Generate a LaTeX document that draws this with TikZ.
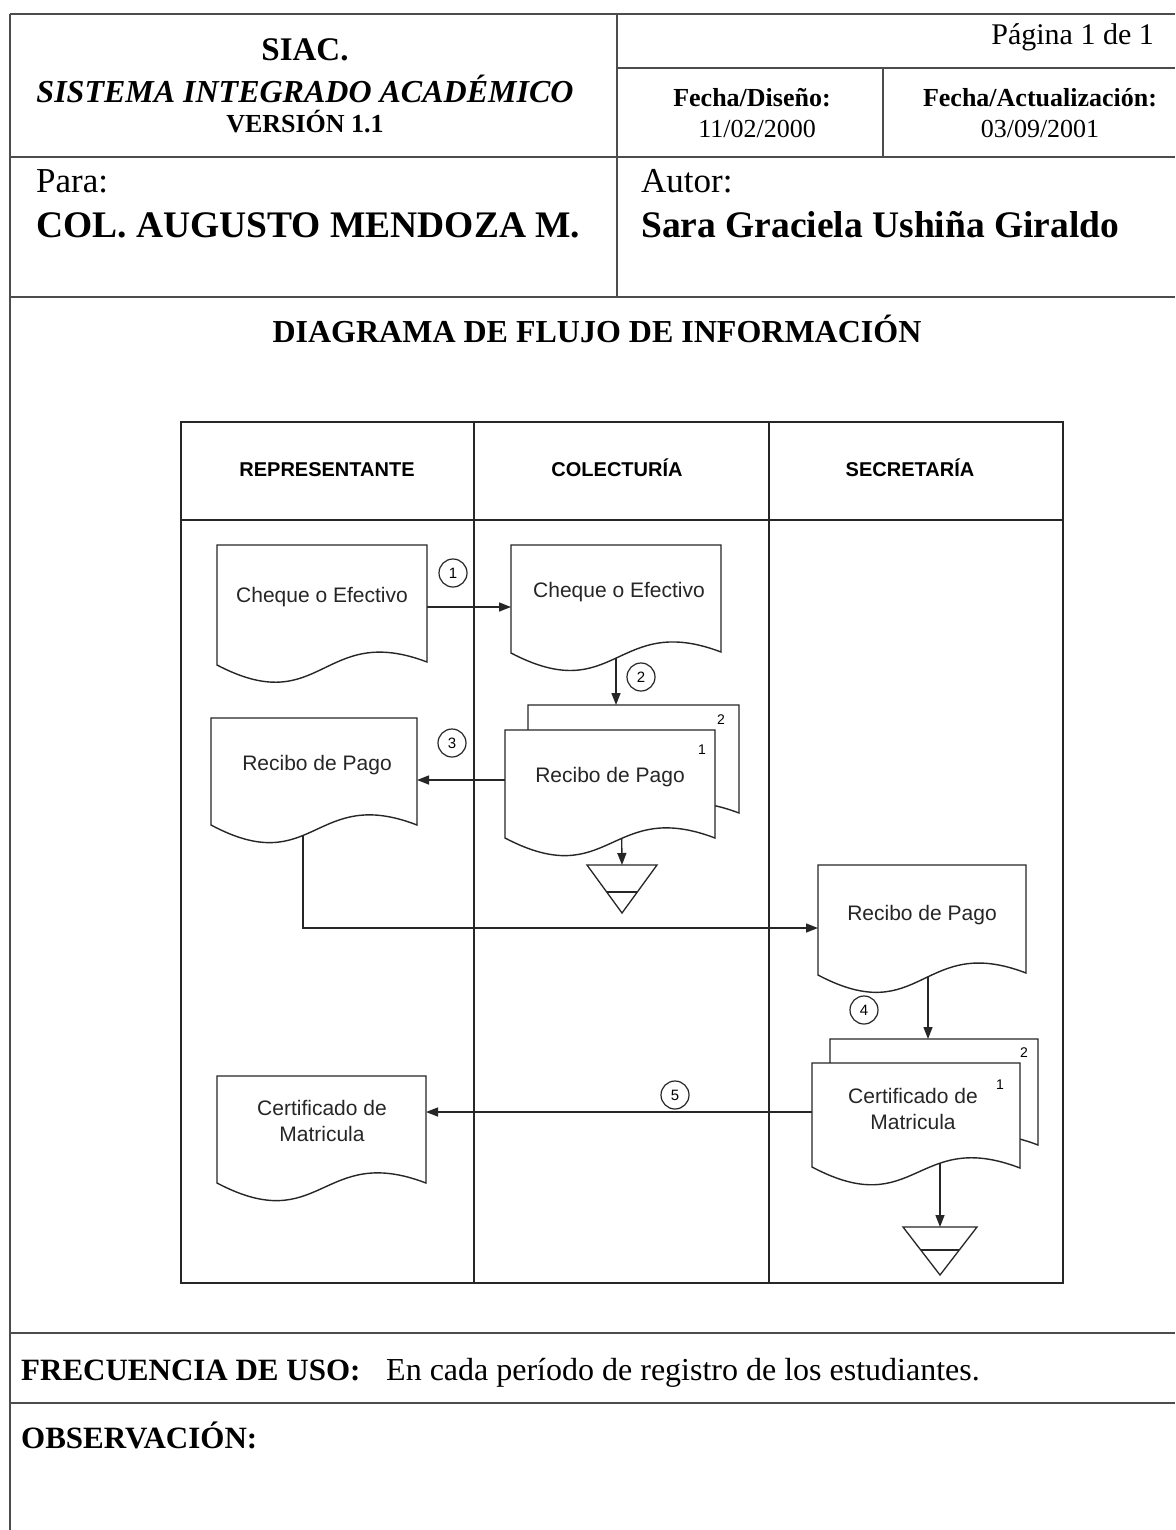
\documentclass[tikz,border=0pt]{standalone}
\usepackage{fontspec}
\setmainfont{Liberation Serif}
\newfontfamily\arialf{Liberation Sans}
\usetikzlibrary{arrows.meta,calc}
\newcommand{\fsz}[2]{\fontsize{#1}{#2}\selectfont}
\tikzset{
  frameline/.style={line width=1.2pt, black!70},
  lane/.style={line width=1.4pt, black!85},
  docline/.style={line width=1.4pt, draw=black!85, fill=white},
  docanchor/.style={draw=none, inner sep=0pt, outer sep=0pt},
  doctext/.style={font=\arialf\fsz{21}{26}, text=black!85, inner sep=0pt, align=center},
  lanehead/.style={font=\arialf\bfseries\fsz{20}{22}, inner sep=0pt, anchor=base},
  arr/.style={line width=1.4pt, black!85, -{Triangle[length=12pt,width=9pt]}},
  num/.style={circle, draw=black!85, line width=1.2pt, fill=white, minimum size=28pt, inner sep=0pt, font=\arialf\fsz{15}{16}},
  copynum/.style={font=\arialf\fsz{14}{16}, inner sep=0pt},
  tri/.style={line width=1.3pt, draw=black!85, fill=white},
}
% x0, y0(top), x1, yL (left bottom), yR (right bottom)
\newcommand{\docshape}[6]{%
  \filldraw[docline] (#2,#3) -- (#4,#3) -- (#4,#6) .. controls ({(#2+#4)/2},{#6-40}) and ({(#2+#4)/2},{#5+55}) .. (#2,#5) -- cycle;
}
% name, xc, ytop, halfwidth, height, inner line y
\newcommand{\storagetri}[6]{%
  \filldraw[tri] ({#2-#4},#3) -- ({#2+#4},#3) -- (#2,{#3+#5}) -- cycle;
  \draw[tri] ({#2-#4*(1-(#6-#3)/#5)},#6) -- ({#2+#4*(1-(#6-#3)/#5)},#6);
}
\begin{document}
\begin{tikzpicture}[x=1pt,y=-1pt]
\useasboundingbox (0,0) rectangle (1175,1530);
\fill[white] (0,0) rectangle (1175,1530);

% ---------- page frame ----------
\draw[frameline] (10,14) -- (1175,14);
\draw[frameline] (10,14) -- (10,1530);
\draw[frameline] (617,14) -- (617,297);
\draw[frameline] (617,68) -- (1175,68);
\draw[frameline] (883,68) -- (883,157);
\draw[frameline] (10,157) -- (1175,157);
\draw[frameline] (10,297) -- (1175,297);
\draw[frameline] (10,1333) -- (1175,1333);
\draw[frameline] (10,1403) -- (1175,1403);

% ---------- header texts ----------
\node[anchor=base, inner sep=0pt, font=\bfseries\fsz{33}{36}] (siac) at (305,61) {SIAC.};
\node[anchor=base, inner sep=0pt, font=\bfseries\itshape\fsz{32}{36}] (sis) at (305,103) {SISTEMA INTEGRADO ACADÉMICO};
\node[anchor=base, inner sep=0pt, font=\bfseries\fsz{26}{30}] (ver) at (305,133) {VERSIÓN 1.1};
\node[anchor=base east, inner sep=0pt, font=\fsz{30}{34}] (pag) at (1154,45) {Página 1 de 1};
\node[anchor=base, inner sep=0pt, font=\bfseries\fsz{26}{30}] (fd) at (752,107) {Fecha/Diseño:};
\node[anchor=base, inner sep=0pt, font=\fsz{26}{30}] (fdv) at (757,138) {11/02/2000};
\node[anchor=base, inner sep=0pt, font=\bfseries\fsz{26}{30}] (fa) at (1040,107) {Fecha/Actualización:};
\node[anchor=base, inner sep=0pt, font=\fsz{26}{30}] (fav) at (1040,138) {03/09/2001};
\node[anchor=base west, inner sep=0pt, font=\fsz{35}{40}] (para) at (36,193) {Para:};
\node[anchor=base west, inner sep=0pt, font=\bfseries\fsz{37.5}{42}] (col) at (36,238) {COL. AUGUSTO MENDOZA M.};
\node[anchor=base west, inner sep=0pt, font=\fsz{35}{40}] (autor) at (641,193) {Autor:};
\node[anchor=base west, inner sep=0pt, font=\bfseries\fsz{37.5}{42}] (sara) at (641,238) {Sara Graciela Ushiña Giraldo};
\node[anchor=base, inner sep=0pt, font=\bfseries\fsz{32}{36}] (title) at (597,342) {DIAGRAMA DE FLUJO DE INFORMACIÓN};

% ---------- swimlane frame ----------
\draw[lane] (181,422) rectangle (1063,1283);
\draw[lane] (474,422) -- (474,1283);
\draw[lane] (769,422) -- (769,1283);
\draw[lane] (181,520) -- (1063,520);
\node[lanehead] (h1) at (327,476) {REPRESENTANTE};
\node[lanehead] (h2) at (617,476) {COLECTURÍA};
\node[lanehead] (h3) at (910,476) {SECRETARÍA};

% ---------- helper coordinates for connector levels ----------
\coordinate (y1) at (0,607);
\coordinate (x2) at (616,0);
\coordinate (y3) at (0,780);
\coordinate (x4) at (303,0);
\coordinate (y4) at (0,928);
\coordinate (x5) at (928,0);
\coordinate (y6) at (0,1112);
\coordinate (x6) at (621,0);
\coordinate (x7) at (940,0);

% ---------- document anchors (invisible, for connectors) ----------
\node[docanchor, minimum width=210pt, minimum height=120pt] (d1) at (322,605) {};
\node[docanchor, minimum width=210pt, minimum height=108pt] (d2) at (616,599) {};
\node[docanchor, minimum width=211pt, minimum height=108pt] (b1) at (633.5,759) {};
\node[docanchor, minimum width=210pt, minimum height=108pt] (f1) at (610,784) {};
\node[docanchor, minimum width=206pt, minimum height=107pt] (d3) at (314,771.5) {};
\node[docanchor, minimum width=208pt, minimum height=110pt] (d4) at (922,920) {};
\node[docanchor, minimum width=208pt, minimum height=106pt] (b2) at (934,1092) {};
\node[docanchor, minimum width=208pt, minimum height=104pt] (f2) at (916,1115) {};
\node[docanchor, minimum width=209pt, minimum height=107pt] (d5) at (321.5,1129.5) {};
\coordinate (t1) at (622,865);
\coordinate (t2) at (940,1227);

% ---------- connectors (drawn below the documents) ----------
\draw[arr] (d1.east |- y1) -- (d2.west |- y1);
\draw[arr] (d2.center -| x2) -- (b1.north -| x2);
\draw[arr] (f1.west |- y3) -- (d3.east |- y3);
\draw[arr] (f1.center -| x6) -- (t1);
\draw[arr] (d3.center -| x4) |- (d4.west |- y4);
\draw[arr] (d4.center -| x5) -- (b2.north -| x5);
\draw[arr] (f2.west |- y6) -- (d5.east |- y6);
\draw[arr] (f2.center -| x7) -- (t2);

% ---------- documents ----------
\docshape{D1}{217}{545}{427}{665}{662}
\docshape{D2}{511}{545}{721}{653}{652}
\docshape{B1}{528}{705}{739}{813}{813}
\docshape{F1}{505}{730}{715}{838}{838}
\docshape{D3}{211}{718}{417}{825}{825}
\docshape{D4}{818}{865}{1026}{975}{973}
\docshape{B2}{830}{1039}{1038}{1145}{1145}
\docshape{F2}{812}{1063}{1020}{1167}{1168}
\docshape{D5}{217}{1076}{426}{1183}{1183}

% storage triangles
\storagetri{T1}{622}{865}{35}{48}{892}
\storagetri{T2}{940}{1227}{37}{48}{1250}

% ---------- document texts ----------
\node[doctext, anchor=base] (d1t) at (322,602) {Cheque o Efectivo};
\node[doctext, anchor=base] (d2t) at (619,597) {Cheque o Efectivo};
\node[doctext, anchor=base] (f1t) at (610,782) {Recibo de Pago};
\node[doctext, anchor=base] (d3t) at (317,770) {Recibo de Pago};
\node[doctext, anchor=base] (d4t) at (922,920) {Recibo de Pago};
\node[doctext, anchor=base] (f2t) at (913,1103) {Certificado de};
\node[doctext, anchor=base] (f2t2) at (913,1129) {Matricula};
\node[doctext, anchor=base] (d5t) at (322,1115) {Certificado de};
\node[doctext, anchor=base] (d5t2) at (322,1141) {Matricula};

\node[copynum] (b1n) at (721,720) {2};
\node[copynum] (f1n) at (702,750) {1};
\node[copynum] (b2n) at (1024,1053) {2};
\node[copynum] (f2n) at (1000,1085) {1};

% ---------- step numbers ----------
\node[num] (n1) at (453,573) {1};
\node[num] (n2) at (641,677) {2};
\node[num] (n3) at (452,743) {3};
\node[num] (n4) at (864,1010) {4};
\node[num] (n5) at (675,1095) {5};

% ---------- footer ----------
\node[anchor=base west, inner sep=0pt, font=\bfseries\fsz{31}{36}] (frec) at (21,1380) {FRECUENCIA DE USO:};
\node[anchor=base west, inner sep=0pt, font=\fsz{32}{36}] (frectxt) at (386,1380) {En cada período de registro de los estudiantes.};
\node[anchor=base west, inner sep=0pt, font=\bfseries\fsz{31}{36}] (obs) at (21,1448) {OBSERVACIÓN:};
\end{tikzpicture}
\end{document}
